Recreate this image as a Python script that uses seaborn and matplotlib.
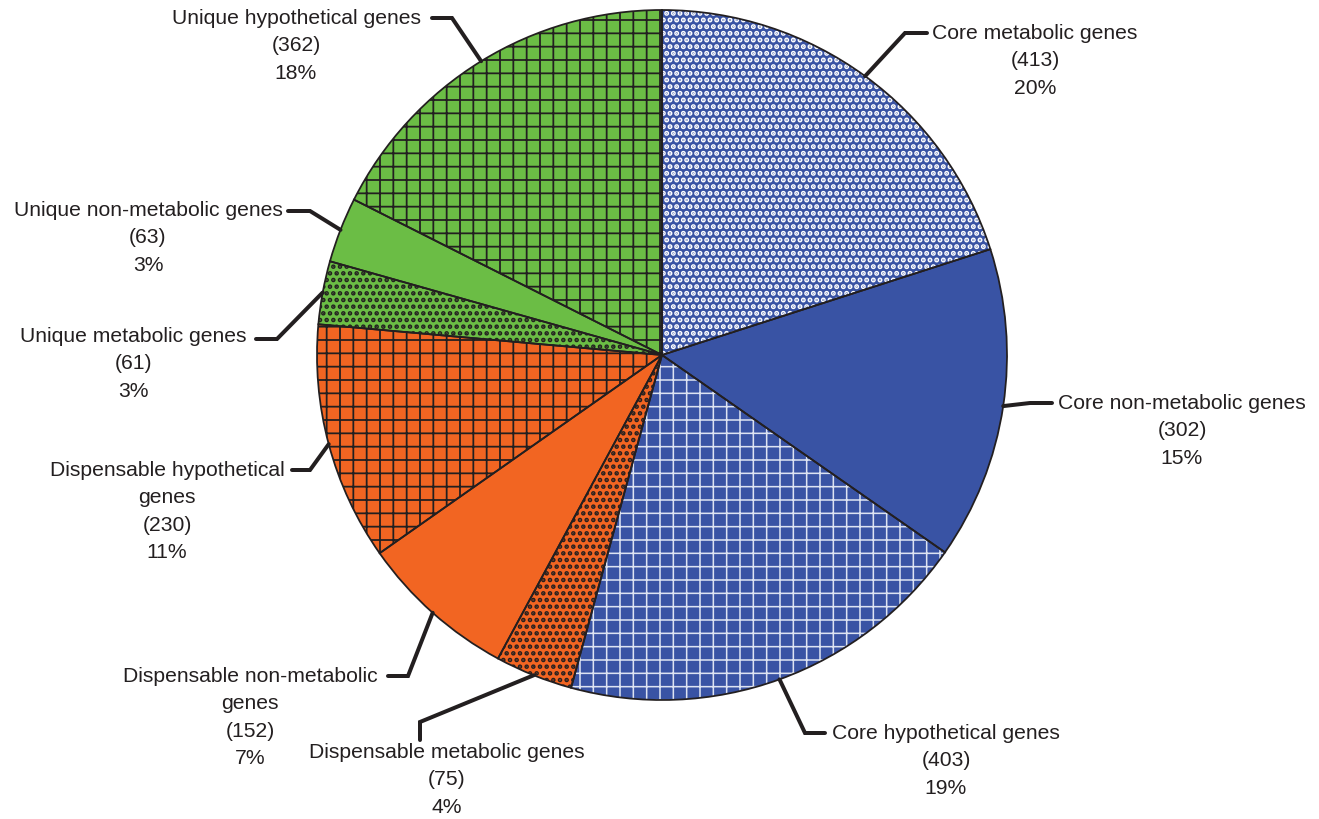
import numpy as np
import matplotlib
matplotlib.use("Agg")
import matplotlib.pyplot as plt
import seaborn as sns

# Gene categories of the pan-genome, clockwise from 12 o'clock
categories = [
    "Core metabolic genes",
    "Core non-metabolic genes",
    "Core hypothetical genes",
    "Dispensable metabolic genes",
    "Dispensable non-metabolic\ngenes",
    "Dispensable hypothetical\ngenes",
    "Unique metabolic genes",
    "Unique non-metabolic genes",
    "Unique hypothetical genes",
]
counts = [413, 302, 403, 75, 152, 230, 61, 63, 362]
pct_labels = ["20%", "15%", "19%", "4%", "7%", "11%", "3%", "3%", "18%"]

BLUE, ORANGE, GREEN = "#3953A4", "#F26522", "#6BBD45"
INK = "#231F20"
face_colors = [BLUE, BLUE, BLUE, ORANGE, ORANGE, ORANGE, GREEN, GREEN, GREEN]
hatches = ["..", None, "+", "..", None, "+", "..", None, "+"]
hatch_colors = ["white", None, "#DDE3F2", INK, None, INK, INK, None, INK]
hatch_widths = [3.2, None, 1.4, 2.8, None, 1.6, 2.8, None, 1.6]

# label layout (pixel coordinates, y measured from the top):
# leader elbow, leader end, text centre x, first-line y
elbows = [(905, 33), (1030, 403), (805, 733), (420, 722), (408, 676),
          (310, 470), (277, 339), (310, 211), (452, 18)]
ends = [(927, 33), (1052, 403), (825, 733), (420, 740), (388, 676),
        (292, 470), (256, 339), (288, 211), (432, 18)]
text_pos = [(1035, 33), (1182, 403), (946, 733), (447, 752), (250, 676),
            (167, 470), (133, 336), (148, 210), (296, 18)]

W, H, DPI = 1319, 819, 80
CX, CY, R = 662, 355, 345

sns.set_style("white")
plt.rcParams["font.family"] = ["Liberation Sans", "DejaVu Sans"]
plt.rcParams["hatch.linewidth"] = 1.4

fig = plt.figure(figsize=(W / DPI, H / DPI), dpi=DPI)
ax = fig.add_axes([0, 0, 1, 1])

# filled wedges carrying the texture
wedges, _ = ax.pie(counts, startangle=90, counterclock=False, radius=R,
                   center=(CX, H - CY), colors=face_colors,
                   wedgeprops=dict(linewidth=0))
for w, h, hc, hw in zip(wedges, hatches, hatch_colors, hatch_widths):
    if h:
        w.set_hatch(h)
        w.set_edgecolor(hc)
        w.set_linewidth(0)
        if hasattr(w, "set_hatch_linewidth"):
            w.set_hatch_linewidth(hw)

# outlines on top
ax.pie(counts, startangle=90, counterclock=False, radius=R,
       center=(CX, H - CY),
       wedgeprops=dict(fill=False, edgecolor=INK, linewidth=1.6))

for w, cat, n, pct, el, en, tp in zip(wedges, categories, counts, pct_labels,
                                       elbows, ends, text_pos):
    mid = np.deg2rad((w.theta1 + w.theta2) / 2)
    sx = CX + R * np.cos(mid)
    sy = (H - CY) + R * np.sin(mid)
    ax.plot([sx, el[0], en[0]], [sy, H - el[1], H - en[1]], color=INK,
            lw=3.6, solid_capstyle="round", solid_joinstyle="miter",
            zorder=5)
    ax.text(tp[0], H - tp[1] + 9, f"{cat}\n({n})\n{pct}", ha="center",
            va="top", multialignment="center", fontsize=19,
            linespacing=1.56, color=INK)

ax.set_xlim(0, W)
ax.set_ylim(0, H)
ax.set_aspect("equal")
ax.axis("off")
fig.savefig("out.png", dpi=DPI, facecolor="white")
